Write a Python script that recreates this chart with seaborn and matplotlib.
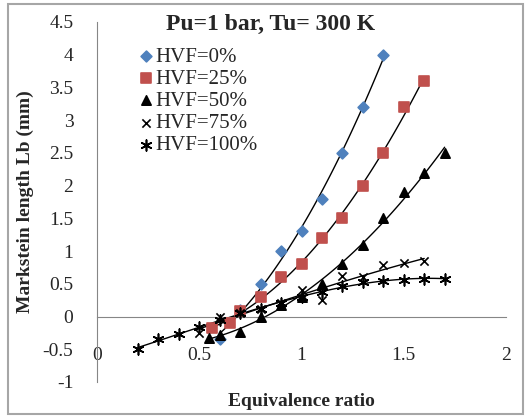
import numpy as np
import matplotlib
matplotlib.use('Agg')
import matplotlib.pyplot as plt
from matplotlib.patches import Rectangle
import seaborn as sns

# ========== 数据 ==========
phi_0 = [0.6, 0.7, 0.8, 0.9, 1.0, 1.1, 1.2, 1.3, 1.4]
lb_0 = [-0.35, 0.1, 0.5, 1.0, 1.3, 1.8, 2.5, 3.2, 4.0]

phi_25 = [0.56, 0.65, 0.7, 0.8, 0.9, 1.0, 1.1, 1.2, 1.3, 1.4, 1.5, 1.6]
lb_25 = [-0.18, -0.1, 0.09, 0.3, 0.6, 0.8, 1.2, 1.5, 2.0, 2.5, 3.2, 3.6]

phi_50 = [0.55, 0.6, 0.7, 0.8, 0.9, 1.0, 1.1, 1.2, 1.3, 1.4, 1.5, 1.6, 1.7]
lb_50 = [-0.33, -0.28, -0.23, 0.0, 0.18, 0.3, 0.49, 0.8, 1.1, 1.5, 1.9, 2.2, 2.5]

phi_75 = [0.5, 0.6, 0.7, 0.8, 0.9, 1.0, 1.1, 1.2, 1.3, 1.4, 1.5, 1.6]
lb_75 = [-0.25, 0.0, 0.05, 0.12, 0.2, 0.4, 0.25, 0.62, 0.6, 0.78, 0.82, 0.85]

phi_100 = [0.2, 0.3, 0.4, 0.5, 0.6, 0.7, 0.8, 0.9, 1.0, 1.1, 1.2, 1.3, 1.4, 1.5, 1.6, 1.7]
lb_100 = [-0.49, -0.35, -0.27, -0.16, -0.05, 0.05, 0.12, 0.2, 0.3, 0.38, 0.46, 0.53, 0.54, 0.56, 0.58, 0.58]

LABELS = ['HVF=0%', 'HVF=25%', 'HVF=50%', 'HVF=75%', 'HVF=100%']
X_TICKS = [0, 0.5, 1, 1.5, 2]
Y_TICKS = [-1, -0.5, 0, 0.5, 1, 1.5, 2, 2.5, 3, 3.5, 4, 4.5]

# ========== 样式 ==========
sns.set_style('white')
plt.rcParams['font.family'] = ['Liberation Serif', 'DejaVu Serif']
AXIS_GRAY = '#868686'

fig = plt.figure(figsize=(5.27, 4.18), dpi=100)
W, H = 527, 418
ax = fig.add_axes([97 / W, 1 - 382 / H, (506 - 97) / W, (382 - 22) / H])

series = [
    (phi_0, lb_0, 'D', '#4F81BD', 30, 2),
    (phi_25, lb_25, 's', '#C0504D', 55, 2),
    (phi_50, lb_50, '^', 'black', 45, 2),
    (phi_75, lb_75, 'x', 'black', 35, 3),
    (phi_100, lb_100, (6, 2, 0), 'black', 60, 3),
]

for (x, y, mk, col, sz, order), lab in zip(series, LABELS):
    sns.regplot(x=x, y=y, ax=ax, order=order, ci=None, truncate=True,
                marker=mk, label=lab,
                scatter_kws={'color': col, 's': sz, 'alpha': 1, 'linewidths': 1.2, 'zorder': 3},
                line_kws={'color': 'black', 'lw': 1.0, 'zorder': 2})

ax.set_xlim(0, 2)
ax.set_ylim(-1, 4.5)
ax.set_xticks(X_TICKS)
ax.set_xticklabels(['0', '0.5', '1', '1.5', '2'])
ax.set_yticks(Y_TICKS)
ax.set_yticklabels(['-1', '-0.5', '0', '0.5', '1', '1.5', '2', '2.5', '3', '3.5', '4', '4.5'])

for s in ['top', 'right']:
    ax.spines[s].set_visible(False)
ax.spines['left'].set_color(AXIS_GRAY)
ax.spines['bottom'].set_color(AXIS_GRAY)
ax.spines['bottom'].set_position(('data', 0))
ax.tick_params(axis='both', length=0, labelsize=14)
ax.tick_params(axis='x', pad=22)
ax.tick_params(axis='y', pad=17)

ax.set_xlabel('Equivalence ratio', fontsize=14, fontweight='bold')
ax.set_ylabel('Markstein length Lb (mm)', fontsize=14, fontweight='bold')
ax.xaxis.set_label_coords(0.5, -0.03)
ax.yaxis.set_label_coords(-0.154, 0.5)

ax.text(0.425, 0.994, 'Pu=1 bar, Tu= 300 K', transform=ax.transAxes,
        ha='center', va='center', fontsize=17, fontweight='bold')

ax.legend(loc='upper left', bbox_to_anchor=(0.105, 0.93), frameon=False,
          fontsize=15, handlelength=0.6, handletextpad=0.15,
          labelspacing=0.12, borderpad=0, borderaxespad=0)

# 外框
fig.patches.append(Rectangle((8 / W, 4 / H), (523 - 8) / W, (414 - 4) / H,
                             transform=fig.transFigure, fill=False,
                             edgecolor='#A6A6A6', lw=1.5))

plt.savefig('out.png', dpi=100)
